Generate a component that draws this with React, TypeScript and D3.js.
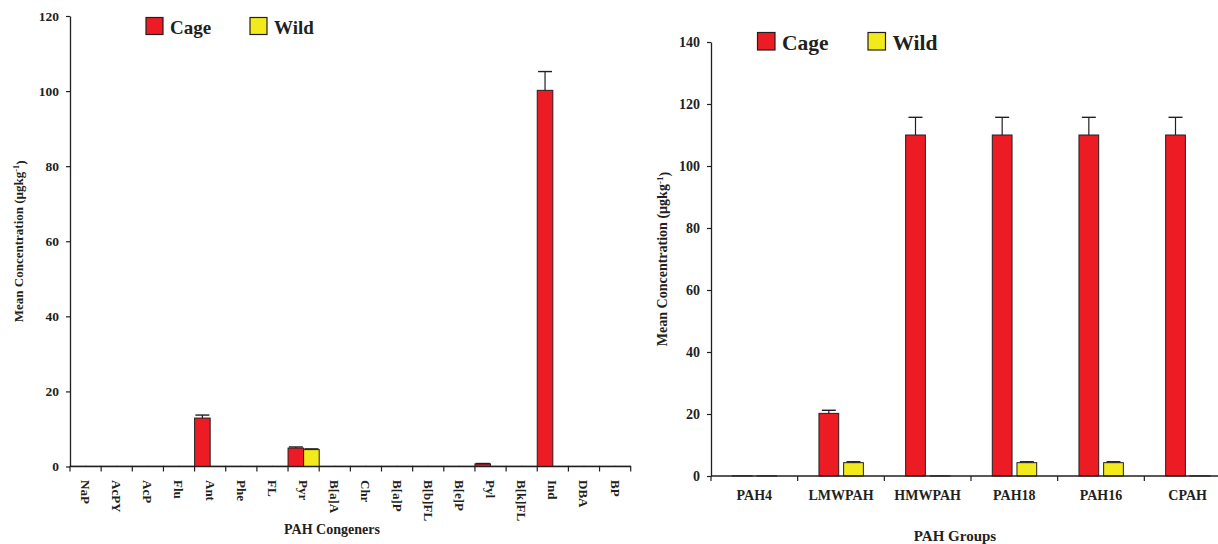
import { useEffect, useRef } from 'react';
import * as d3 from 'd3';

// PAH congeners (left panel)
const congeners = ['NaP', 'AcPY', 'AcP', 'Flu', 'Ant', 'Phe', 'FL', 'Pyr', 'B[a]A', 'Chr', 'B[a]P', 'B[b]FL', 'B[e]P', 'Pyl', 'B[k]FL', 'Ind', 'DBA', 'BP'];
const congenerCage = [0.05, 0.05, 0.05, 0.05, 12.9, 0.05, 0.05, 4.9, 0.05, 0.05, 0.05, 0.05, 0.05, 0.7, 0.05, 100.2, 0.05, 0.05];
const congenerCageErr = [0, 0, 0, 0, 0.8, 0, 0, 0.3, 0, 0, 0, 0, 0, 0.1, 0, 5.0, 0, 0];
const congenerWild = [0.05, 0.05, 0.05, 0.05, 0.05, 0.05, 0.05, 4.5, 0.05, 0.05, 0.05, 0.05, 0.05, 0.05, 0.05, 0.05, 0.05, 0.05];
const congenerWildErr = [0, 0, 0, 0, 0, 0, 0, 0.2, 0, 0, 0, 0, 0, 0, 0, 0, 0, 0];
const congenerTicks = [0, 20, 40, 60, 80, 100, 120];

// PAH groups (right panel)
const groups = ['PAH4', 'LMWPAH', 'HMWPAH', 'PAH18', 'PAH16', 'CPAH'];
const groupCage = [0.05, 20.2, 110, 110, 110, 110];
const groupCageErr = [0, 1.0, 5.7, 5.7, 5.7, 5.7];
const groupWild = [0.05, 4.3, 0.05, 4.3, 4.3, 0.05];
const groupWildErr = [0, 0.3, 0, 0.3, 0.3, 0];
const groupTicks = [0, 20, 40, 60, 80, 100, 120, 140];

const seriesNames = ['Cage', 'Wild'];
const COLORS = ['#ED1C24', '#F2EA1A'];
const INK = '#231F20';
const FONT = '"Liberation Serif", "Times New Roman", serif';

interface PanelCfg {
  cats: string[];
  values: number[][];
  errors: number[][];
  ticks: number[];
  x0: number;
  x1: number;
  yTop: number;
  yBottom: number;
  tickFont: number;
  innerOffset: number;
  innerWidth: number;
  innerPad: number;
  rotateLabels: boolean;
  labelY: number;
  labelFont: number;
  xTitle: string;
  xTitleX: number;
  xTitleY: number;
  yTitleX: number;
  titleFont: number;
  legendX: number[];
  legendY: number;
  legendSize: number;
  legendFont: number;
}

function drawPanel(svg: d3.Selection<SVGSVGElement, unknown, null, undefined>, c: PanelCfg) {
  const g = svg.append('g').style('font-family', FONT).style('font-weight', 'bold');
  const x = d3.scaleBand<string>().domain(c.cats).range([c.x0, c.x1]).padding(0);
  const inner = d3
    .scaleBand<string>()
    .domain(seriesNames)
    .range([c.innerOffset, c.innerOffset + c.innerWidth])
    .paddingInner(c.innerPad);
  const y = d3
    .scaleLinear()
    .domain([0, c.ticks[c.ticks.length - 1]])
    .range([c.yBottom, c.yTop]);

  // bars + error bars
  seriesNames.forEach((s, si) => {
    const sg = g.append('g');
    sg.selectAll('rect')
      .data(c.cats)
      .join('rect')
      .attr('x', (d) => (x(d) ?? 0) + (inner(s) ?? 0))
      .attr('width', inner.bandwidth())
      .attr('y', (_, i) => y(c.values[si][i]))
      .attr('height', (_, i) => y(0) - y(c.values[si][i]))
      .attr('fill', COLORS[si])
      .attr('stroke', INK)
      .attr('stroke-width', 1);
    const eb = sg
      .selectAll('g.err')
      .data(c.cats.map((d, i) => ({ d, i })).filter((o) => c.errors[si][o.i] > 0))
      .join('g')
      .attr('class', 'err');
    const cx = (d: string) => (x(d) ?? 0) + (inner(s) ?? 0) + inner.bandwidth() / 2;
    eb.append('line')
      .attr('x1', (o) => cx(o.d))
      .attr('x2', (o) => cx(o.d))
      .attr('y1', (o) => y(c.values[si][o.i]))
      .attr('y2', (o) => y(c.values[si][o.i] + c.errors[si][o.i]))
      .attr('stroke', INK)
      .attr('stroke-width', 1.2);
    eb.append('line')
      .attr('x1', (o) => cx(o.d) - 7)
      .attr('x2', (o) => cx(o.d) + 7)
      .attr('y1', (o) => y(c.values[si][o.i] + c.errors[si][o.i]))
      .attr('y2', (o) => y(c.values[si][o.i] + c.errors[si][o.i]))
      .attr('stroke', INK)
      .attr('stroke-width', 1.4);
  });

  // y axis
  const yAxis = g
    .append('g')
    .attr('transform', `translate(${c.x0},0)`)
    .call(d3.axisLeft(y).tickValues(c.ticks).tickSize(4).tickSizeOuter(0).tickPadding(7));
  yAxis.select('.domain').attr('stroke', INK).attr('stroke-width', 1.3);
  yAxis.selectAll('.tick line').attr('stroke', INK).attr('stroke-width', 1.2);
  yAxis
    .selectAll('.tick text')
    .attr('fill', INK)
    .style('font-family', FONT)
    .style('font-weight', 'bold')
    .style('font-size', `${c.tickFont}px`);

  // x axis line + boundary ticks
  g.append('line')
    .attr('x1', c.x0)
    .attr('x2', c.x1)
    .attr('y1', c.yBottom)
    .attr('y2', c.yBottom)
    .attr('stroke', INK)
    .attr('stroke-width', 1.3);
  const bounds = [...c.cats.map((d) => x(d) ?? 0), c.x1];
  g.selectAll('line.xt')
    .data(bounds)
    .join('line')
    .attr('class', 'xt')
    .attr('x1', (d) => d)
    .attr('x2', (d) => d)
    .attr('y1', c.yBottom)
    .attr('y2', c.yBottom + 5)
    .attr('stroke', INK)
    .attr('stroke-width', 1.2);

  // category labels
  const labels = g
    .selectAll('text.cat')
    .data(c.cats)
    .join('text')
    .attr('class', 'cat')
    .attr('fill', INK)
    .style('font-size', `${c.labelFont}px`)
    .text((d) => d);
  if (c.rotateLabels) {
    labels
      .attr('transform', (d) => `translate(${(x(d) ?? 0) + x.bandwidth() / 2},${c.labelY}) rotate(90)`)
      .attr('dy', '0.35em')
      .attr('text-anchor', 'start');
  } else {
    labels
      .attr('x', (d) => (x(d) ?? 0) + x.bandwidth() / 2)
      .attr('y', c.labelY)
      .attr('text-anchor', 'middle');
  }

  // titles
  g.append('text')
    .attr('x', c.xTitleX)
    .attr('y', c.xTitleY)
    .attr('text-anchor', 'middle')
    .attr('fill', INK)
    .style('font-size', `${c.titleFont}px`)
    .text(c.xTitle);
  const yt = g
    .append('text')
    .attr('transform', `translate(${c.yTitleX},${(c.yTop + c.yBottom) / 2}) rotate(-90)`)
    .attr('text-anchor', 'middle')
    .attr('dy', '0.35em')
    .attr('fill', INK)
    .style('font-size', `${c.titleFont - 1}px`);
  yt.append('tspan').text('Mean Concentration (µgkg');
  yt.append('tspan').attr('dy', '-0.45em').style('font-size', `${(c.titleFont - 1) * 0.65}px`).text('-1');
  yt.append('tspan').attr('dy', '0.45em').text(')');

  // legend
  seriesNames.forEach((s, si) => {
    g.append('rect')
      .attr('x', c.legendX[si])
      .attr('y', c.legendY)
      .attr('width', c.legendSize)
      .attr('height', c.legendSize)
      .attr('fill', COLORS[si])
      .attr('stroke', INK)
      .attr('stroke-width', 1.2);
    g.append('text')
      .attr('x', c.legendX[si] + c.legendSize + 7)
      .attr('y', c.legendY + c.legendSize - 0.5)
      .attr('fill', INK)
      .style('font-size', `${c.legendFont}px`)
      .text(s);
  });
}

export default function App() {
  const svgRef = useRef<SVGSVGElement>(null);

  useEffect(() => {
    if (!svgRef.current) return;
    const svg = d3.select(svgRef.current);
    svg.selectAll('*').remove();

    drawPanel(svg, {
      cats: congeners,
      values: [congenerCage, congenerWild],
      errors: [congenerCageErr, congenerWildErr],
      ticks: congenerTicks,
      x0: 70,
      x1: 630.7,
      yTop: 16,
      yBottom: 466.5,
      tickFont: 13.5,
      innerOffset: 0,
      innerWidth: (630.7 - 70) / congeners.length,
      innerPad: 0,
      rotateLabels: true,
      labelY: 480,
      labelFont: 13,
      xTitle: 'PAH Congeners',
      xTitleX: 332,
      xTitleY: 534,
      yTitleX: 18,
      titleFont: 14,
      legendX: [146, 250],
      legendY: 17.5,
      legendSize: 17,
      legendFont: 19,
    });

    drawPanel(svg, {
      cats: groups,
      values: [groupCage, groupWild],
      errors: [groupCageErr, groupWildErr],
      ticks: groupTicks,
      x0: 711,
      x1: 1231,
      yTop: 42,
      yBottom: 476,
      tickFont: 14,
      innerOffset: 21.3,
      innerWidth: 44.4,
      innerPad: 0.2,
      rotateLabels: false,
      labelY: 499.5,
      labelFont: 14,
      xTitle: 'PAH Groups',
      xTitleX: 955,
      xTitleY: 541,
      yTitleX: 662,
      titleFont: 15,
      legendX: [757.5, 868],
      legendY: 32.5,
      legendSize: 17.5,
      legendFont: 21.5,
    });
  }, []);

  return (
    <svg
      ref={svgRef}
      width={1218}
      height={544}
      viewBox="0 0 1218 544"
      style={{ position: 'absolute', left: 0, top: 0, background: '#fff' }}
    />
  );
}
